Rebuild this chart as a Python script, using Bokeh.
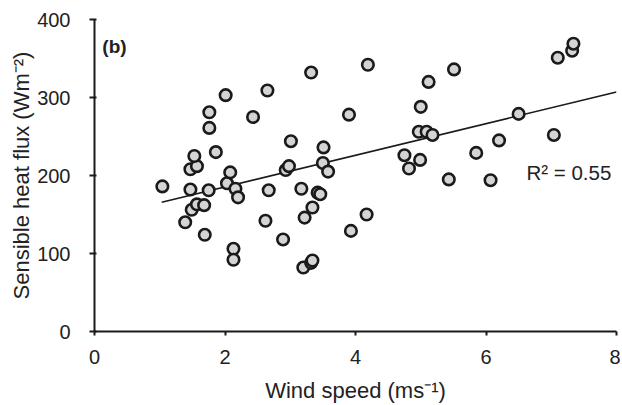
from bokeh.plotting import figure
from bokeh.models import FixedTicker, Label
from bokeh.embed import file_html
from bokeh.resources import INLINE

wind_speed = [1.04, 1.39, 1.47, 1.49, 1.47, 1.57, 1.53, 1.57, 1.68, 1.69,
              1.75, 1.76, 1.76, 1.86, 2.01, 2.03, 2.08, 2.16, 2.20, 2.13,
              2.13, 2.43, 2.65, 2.67, 2.62, 2.89, 2.93, 2.98, 3.01, 3.17,
              3.22, 3.20, 3.32, 3.34, 3.32, 3.34, 3.42, 3.46, 3.50, 3.51,
              3.58, 3.90, 3.93, 4.17, 4.19, 4.75, 4.82, 4.99, 4.97, 5.09,
              5.18, 5.00, 5.12, 5.51, 5.43, 5.85, 6.07, 6.20, 6.50, 7.04,
              7.10, 7.32, 7.34]
heat_flux = [186, 140, 182, 156, 208, 212, 225, 163, 162, 124,
             181, 281, 261, 230, 303, 190, 204, 183, 172, 106,
             92, 275, 309, 181, 142, 118, 207, 212, 244, 183,
             146, 82, 88, 91, 332, 159, 178, 176, 216, 236,
             205, 278, 129, 150, 342, 226, 209, 220, 256, 256,
             252, 288, 320, 336, 195, 229, 194, 245, 279, 252,
             351, 360, 369]

trend_x = [1.03, 8.0]
trend_slope = 20.3
trend_intercept = 144.7
r2_text = "R\u00b2 = 0.55"
panel_text = "(b)"

x_ticks = [0, 2, 4, 6, 8]
y_ticks = [0, 100, 200, 300, 400]

p = figure(width=620, height=405, output_backend="svg", toolbar_location=None,
           x_range=(0, 8), y_range=(0, 400),
           min_border_left=94, min_border_top=19, min_border_right=4, min_border_bottom=72)
p.outline_line_color = None
p.xgrid.visible = False
p.ygrid.visible = False
p.background_fill_color = "white"

trend_y = [trend_intercept + trend_slope * x for x in trend_x]
p.line(trend_x, trend_y, line_color="#1a1a1a", line_width=1.6)

p.scatter(wind_speed, heat_flux, size=11.5, marker="circle",
          fill_color="#d4d4d4", line_color="#1a1a1a", line_width=2.6)

for ax in (p.xaxis[0], p.yaxis[0]):
    ax.axis_line_color = "#1a1a1a"
    ax.axis_line_width = 2
    ax.major_tick_line_color = "#1a1a1a"
    ax.major_tick_line_width = 2
    ax.minor_tick_line_color = None
    ax.major_label_text_font = "Liberation Sans"
    ax.major_label_text_font_size = "20px"
    ax.major_label_text_color = "#222222"
    ax.axis_label_text_font = "Liberation Sans"
    ax.axis_label_text_font_size = "22px"
    ax.axis_label_text_font_style = "normal"
    ax.axis_label_text_color = "#222222"

p.xaxis.ticker = FixedTicker(ticks=x_ticks)
p.yaxis.ticker = FixedTicker(ticks=y_ticks)
p.xaxis.major_tick_in = 0
p.xaxis.major_tick_out = 4
p.yaxis.major_tick_in = 2
p.yaxis.major_tick_out = 5
p.xaxis.major_label_standoff = 14
p.yaxis.major_label_standoff = 19
p.xaxis.axis_label = "Wind speed (ms\u207b\u00b9)"
p.yaxis.axis_label = "Sensible heat flux (Wm\u207b\u00b2)"
p.xaxis.axis_label_standoff = 11
p.yaxis.axis_label_standoff = 0

p.add_layout(Label(x=0.12, y=366, text=panel_text, text_font="Liberation Sans",
                   text_font_size="19px", text_font_style="bold", text_color="#222222",
                   text_baseline="middle"))
p.add_layout(Label(x=6.62, y=204, text=r2_text, text_font="Liberation Sans",
                   text_font_size="20.5px", text_color="#222222",
                   text_baseline="middle"))

open("out.html", "w").write(file_html(p, INLINE))
